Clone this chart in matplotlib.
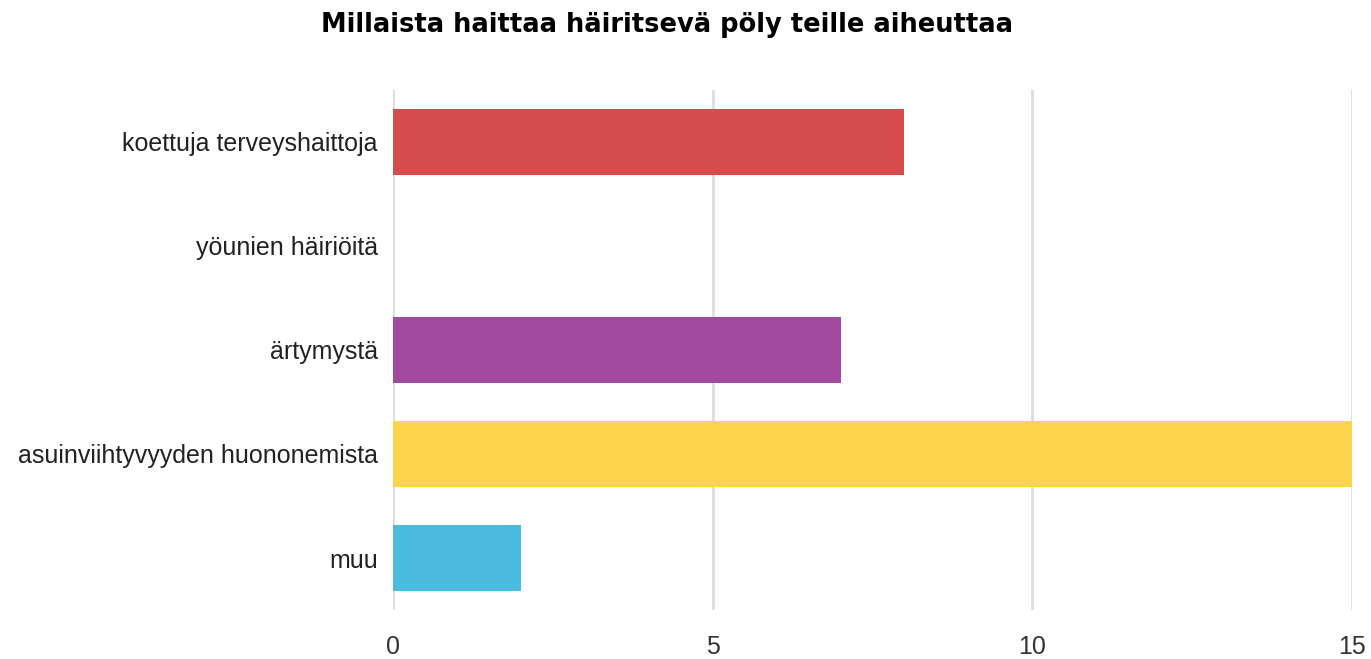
import matplotlib.pyplot as plt

categories = ['koettuja terveyshaittoja', 'yöunien häiriöitä', 'ärtymystä',
              'asuinviihtyvyyden huononemista', 'muu']
values = [8, 0, 7, 15, 2]
colors = ['#d64b4b', '#a04ba0', '#a04ba0', '#fdd44c', '#4bbce0']
xticks = [0, 5, 10, 15]

label_font = ['Liberation Sans', 'DejaVu Sans']

fig = plt.figure(figsize=(13.71, 6.59), dpi=100)
ax = fig.add_axes([393 / 1371, 49 / 659, 959 / 1371, 520 / 659])

ypos = list(range(len(categories)))
ax.barh(ypos, values, height=0.63, color=colors, zorder=3)
ax.set_ylim(len(categories) - 0.5, -0.5)
ax.set_xlim(0, 15)
ax.set_xticks(xticks)
ax.set_yticks(ypos)
ax.set_yticklabels(categories, family=label_font, fontsize=18, color='#222222')
ax.set_xticklabels([str(t) for t in xticks], family=label_font, fontsize=18, color='#333333')
ax.tick_params(length=0)
ax.tick_params(axis='x', pad=18)
ax.tick_params(axis='y', pad=11)
ax.grid(axis='x', color='#dddddd', linewidth=2, zorder=0)
for s in ax.spines.values():
    s.set_visible(False)

fig.text(667 / 1371, 1 - 25 / 659, 'Millaista haittaa häiritsevä pöly teille aiheuttaa',
         ha='center', va='center', fontsize=18.5, fontweight='bold', family='DejaVu Sans')

fig.savefig('out.png', dpi=100, facecolor='white')
